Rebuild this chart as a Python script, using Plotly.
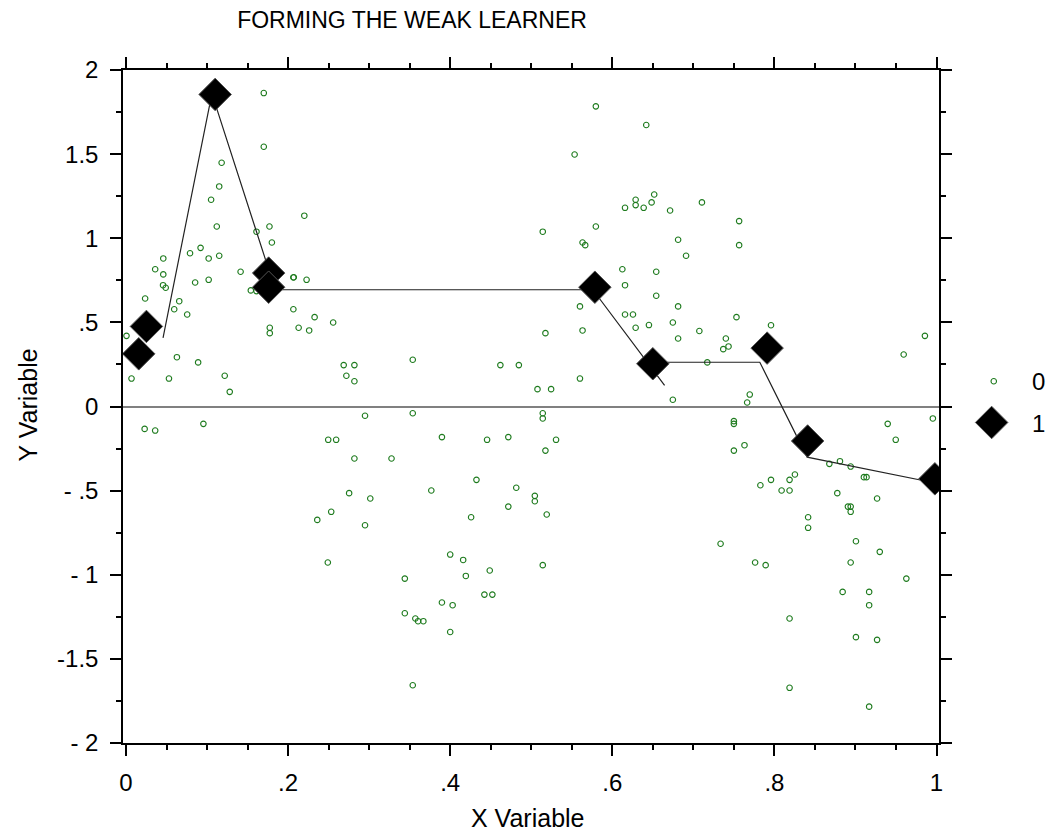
import plotly.graph_objects as go

title_text = "FORMING THE WEAK LEARNER"
x_title = "X Variable"
y_title = "Y Variable"

x_tickvals = [0, 0.2, 0.4, 0.6, 0.8, 1.0]
x_ticktext = ["0", ".2", ".4", ".6", ".8", "1"]
y_tickvals = [-2, -1.5, -1, -0.5, 0, 0.5, 1, 1.5, 2]
y_ticktext = ["- 2", "-1.5", "- 1", "- .5", "0", ".5", "1", "1.5", "2"]

legend_labels = ["0", "1"]

# class 0 (small open green circles)
class0_x = [
    0.170, 0.170, 0.118, 0.115, 0.105, 0.220, 0.112, 0.177, 0.161, 0.180, 0.092,
    0.0006, 0.0236, 0.0068, 0.046, 0.036, 0.046, 0.0457, 0.049, 0.079, 0.102, 0.115,
    0.0657, 0.0595, 0.0755, 0.0853, 0.102, 0.1414, 0.0628, 0.089, 0.053, 0.1218, 0.128,
    0.154, 0.161, 0.2065, 0.207, 0.2228, 0.2065, 0.2327, 0.213, 0.226, 0.1774, 0.1774,
    0.023, 0.036, 0.0955,
    0.2556, 0.2686, 0.2818, 0.2719, 0.2818, 0.3538, 0.2949, 0.3538,
    0.5142, 0.5142, 0.2495, 0.2593, 0.3898, 0.4455, 0.4717, 0.2818, 0.3276, 0.5175,
    0.4324, 0.4815, 0.5044, 0.5044, 0.2753, 0.3014, 0.3767, 0.2532, 0.2949, 0.4717,
    0.4258, 0.5191, 0.249, 0.400, 0.416, 0.4193, 0.4488, 0.5142, 0.344, 0.4422, 0.452,
    0.3898, 0.403, 0.344, 0.357, 0.3604, 0.3669, 0.400, 0.3538,
    0.5797, 0.6419, 0.5535, 0.6288, 0.6288, 0.6157, 0.6387, 0.6485, 0.6517, 0.5797,
    0.5142, 0.5633, 0.5666, 0.6124, 0.6157, 0.6542, 0.6542, 0.5601, 0.5633, 0.6157,
    0.6255, 0.6288, 0.6452, 0.5175, 0.4619, 0.4847, 0.5601, 0.5077, 0.5245, 0.5306,
    0.6713, 0.7106, 0.7565, 0.7565, 0.6812, 0.691, 0.6812, 0.6747, 0.6812, 0.7074,
    0.7532, 0.7958, 0.7401, 0.7369, 0.7434, 0.7172, 0.6747, 0.7696, 0.7664, 0.750, 0.750,
    0.7631, 0.750, 0.9857, 0.9595, 0.9398, 0.9497, 0.9955, 0.8678, 0.8809, 0.8941,
    0.9104, 0.9137, 0.7827, 0.7958, 0.8187, 0.8253, 0.8089, 0.8187, 0.8776, 0.9267,
    0.8907, 0.8941, 0.8941, 0.8416, 0.8416, 0.9006, 0.930, 0.7336, 0.8941, 0.7762,
    0.7892, 0.9628, 0.8842, 0.9169, 0.9169, 0.8187, 0.9006, 0.9267, 0.8187, 0.9169,
    0.236,
]
class0_y = [
    1.863, 1.544, 1.449, 1.308, 1.229, 1.134, 1.070, 1.070, 1.039, 0.975, 0.943,
    0.420, 0.642, 0.166, 0.880, 0.816, 0.785, 0.721, 0.706, 0.911, 0.880, 0.896,
    0.626, 0.578, 0.547, 0.737, 0.753, 0.801, 0.293, 0.262, 0.166, 0.183, 0.087,
    0.690, 0.686, 0.767, 0.768, 0.753, 0.578, 0.531, 0.468, 0.452, 0.468, 0.436,
    -0.133, -0.143, -0.103,
    0.499, 0.246, 0.246, 0.183, 0.150, 0.278, -0.055, -0.040,
    -0.040, -0.071, -0.198, -0.198, -0.182, -0.198, -0.182, -0.309, -0.309, -0.262,
    -0.436, -0.483, -0.531, -0.563, -0.515, -0.547, -0.499, -0.626, -0.706, -0.595,
    -0.658, -0.642, -0.927, -0.880, -0.912, -1.007, -0.975, -0.943, -1.023, -1.118, -1.118,
    -1.165, -1.181, -1.229, -1.260, -1.276, -1.276, -1.340, -1.657,
    1.784, 1.673, 1.498, 1.229, 1.197, 1.181, 1.181, 1.213, 1.260, 1.070,
    1.039, 0.975, 0.959, 0.816, 0.721, 0.801, 0.658, 0.595, 0.452, 0.547,
    0.547, 0.468, 0.484, 0.436, 0.246, 0.246, 0.166, 0.103, 0.103, -0.198,
    1.165, 1.213, 1.102, 0.959, 0.991, 0.896, 0.595, 0.499, 0.404, 0.449,
    0.531, 0.483, 0.404, 0.341, 0.357, 0.262, 0.040, 0.071, 0.024, -0.087, -0.103,
    -0.230, -0.262, 0.420, 0.309, -0.103, -0.198, -0.071, -0.341, -0.325, -0.357,
    -0.420, -0.420, -0.468, -0.436, -0.436, -0.404, -0.499, -0.499, -0.515, -0.547,
    -0.595, -0.595, -0.626, -0.658, -0.721, -0.801, -0.864, -0.816, -0.927, -0.927,
    -0.943, -1.023, -1.102, -1.102, -1.181, -1.260, -1.371, -1.387, -1.672, -1.784,
    -0.674,
]

# class 1 (large black diamonds)
class1_x = [0.0157, 0.0252, 0.110, 0.176, 0.176, 0.5785, 0.650, 0.791, 0.841, 0.998]
class1_y = [0.313, 0.476, 1.855, 0.793, 0.709, 0.709, 0.254, 0.347, -0.205, -0.430]

# weak learner (piecewise fit, None = break)
learner_x = [0.0457, 0.106, 0.177, None, 0.176, 0.576, 0.6645, None, 0.648, 0.782, 0.8404, 1.0]
learner_y = [0.408, 1.860, 0.800, None, 0.694, 0.694, 0.125, None, 0.263, 0.263, -0.301, -0.456]

font_family = "Liberation Sans, Arial, sans-serif"
green = "#1e7b1e"

fig = go.Figure()
fig.add_trace(go.Scatter(
    x=class0_x, y=class0_y, mode="markers", showlegend=False,
    marker=dict(symbol="circle-open", size=5.5, color=green, line=dict(width=1.1, color=green)),
))
fig.add_trace(go.Scatter(
    x=learner_x, y=learner_y, mode="lines", showlegend=False,
    line=dict(color="#222222", width=1.2),
))
fig.add_trace(go.Scatter(
    x=class1_x, y=class1_y, mode="markers", showlegend=False,
    marker=dict(symbol="diamond", size=25, color="black", line=dict(color="#555555", width=1)),
))

# custom legend on auxiliary axes
fig.add_trace(go.Scatter(
    x=[0.42], y=[0.15], xaxis="x2", yaxis="y2", mode="markers", showlegend=False,
    marker=dict(symbol="circle-open", size=5.5, color=green, line=dict(width=1.1, color=green)),
))
fig.add_trace(go.Scatter(
    x=[0.40], y=[-0.095], xaxis="x2", yaxis="y2", mode="markers", showlegend=False,
    marker=dict(symbol="diamond", size=25, color="black", line=dict(color="#555555", width=1)),
))

main_dom = 820 / 937

axis_common = dict(
    showline=True, linecolor="black", linewidth=1.5, mirror="allticks",
    ticks="outside", ticklen=11, tickwidth=1.5, tickcolor="black",
    showgrid=False,
    tickfont=dict(family=font_family, size=24, color="black"),
)

fig.update_layout(
    width=1060, height=833,
    margin=dict(l=123, r=0, t=70, b=90),
    paper_bgcolor="white", plot_bgcolor="white",
    font=dict(family=font_family, color="black"),
    title=dict(text=title_text, x=412 / 1060, xanchor="center", xref="container",
               y=1 - 20 / 833, yanchor="middle", yref="container",
               font=dict(family=font_family, size=23, color="black")),
    xaxis=dict(
        domain=[0, main_dom], range=[-0.0037, 1.0037],
        tickvals=x_tickvals, ticktext=x_ticktext, zeroline=False,
        minor=dict(ticks="outside", ticklen=5, tickwidth=1.5, tickcolor="black", dtick=0.05, tick0=0),
        ticklabelstandoff=6,
        **axis_common,
    ),
    yaxis=dict(
        range=[-2, 2], tickvals=y_tickvals, ticktext=y_ticktext,
        zeroline=True, zerolinecolor="#808080", zerolinewidth=1.5,
        minor=dict(ticks="outside", ticklen=5, tickwidth=1.5, tickcolor="black", dtick=0.25, tick0=0),
        ticklabelstandoff=7,
        **axis_common,
    ),
    xaxis2=dict(domain=[0.885, 1.0], range=[0, 1], visible=False, anchor="y2"),
    yaxis2=dict(domain=[0, 1], range=[-2, 2], visible=False, anchor="x2"),
    annotations=[
        dict(text=legend_labels[0], x=0.84, y=0.15, xref="x2", yref="y2", showarrow=False,
             xanchor="center", yanchor="middle", font=dict(family=font_family, size=24)),
        dict(text=legend_labels[1], x=0.84, y=-0.10, xref="x2", yref="y2", showarrow=False,
             xanchor="center", yanchor="middle", font=dict(family=font_family, size=24)),
        dict(text=y_title, x=(28 - 123) / 937, y=(743 - 405) / 673, xref="paper", yref="paper",
             textangle=-90, showarrow=False, xanchor="center", yanchor="middle",
             font=dict(family=font_family, size=25)),
        dict(text=x_title, x=(530 - 123) / 937, y=(743 - 818) / 673, xref="paper", yref="paper",
             showarrow=False, xanchor="center", yanchor="middle",
             font=dict(family=font_family, size=25)),
    ],
)

fig.write_html("out.html")
